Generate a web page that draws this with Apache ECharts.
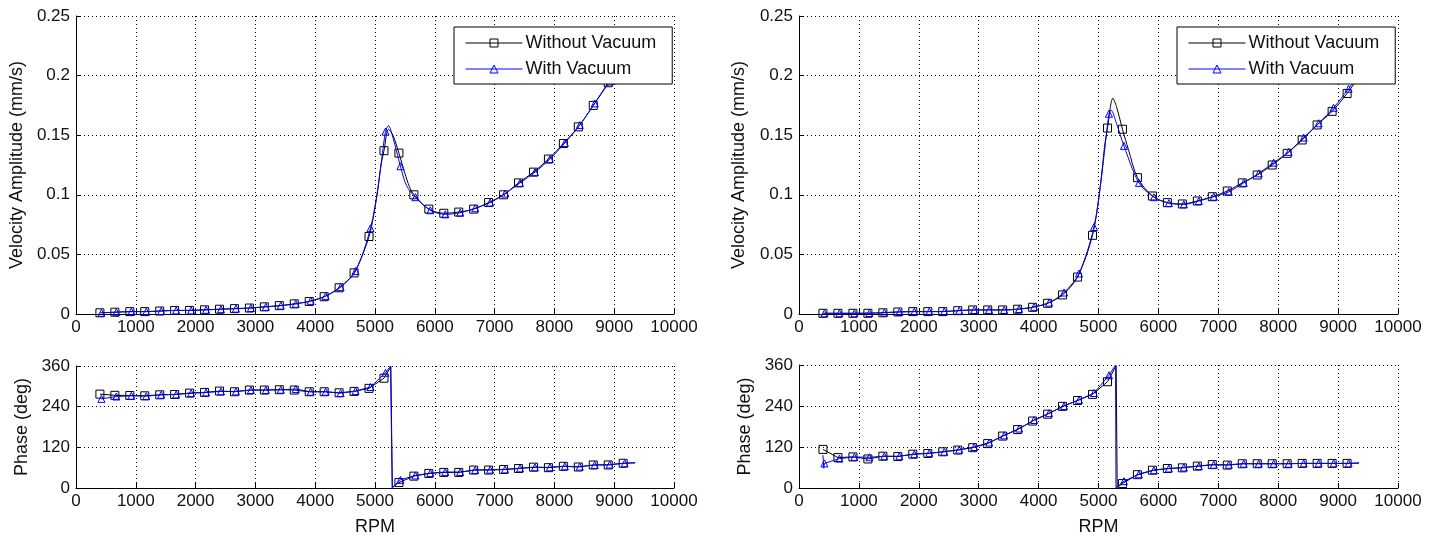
<!DOCTYPE html>
<html>
<head>
<meta charset="utf-8">
<script src="https://cdn.jsdelivr.net/npm/echarts/dist/echarts.min.js"></script>
<style>
  html, body { margin: 0; padding: 0; background: #fff; }
  #chart { width: 1438px; height: 538px; }
</style>
</head>
<body>
<div id="chart"></div>
<script>
// Run-up test: velocity amplitude and phase vs shaft speed, two measurement points.

// Marker speeds (RPM)
const rpmNoVac = [400, 650, 900, 1150, 1400, 1650, 1900, 2150, 2400, 2650, 2900, 3150, 3400, 3650, 3900, 4150, 4400, 4650, 4900, 5150, 5400, 5650, 5900, 6150, 6400, 6650, 6900, 7150, 7400, 7650, 7900, 8150, 8400, 8650, 8900, 9150];
const rpmVac   = [425, 675, 925, 1175, 1425, 1675, 1925, 2175, 2425, 2675, 2925, 3175, 3425, 3675, 3925, 4175, 4425, 4675, 4925, 5175, 5425, 5675, 5925, 6175, 6425, 6675, 6925, 7175, 7425, 7675, 7925, 8175, 8425, 8675, 8925, 9175];

// Left point: velocity amplitude (mm/s) at marker speeds
const ampLeftNoVac = [0.001, 0.0015, 0.002, 0.002, 0.0025, 0.003, 0.003, 0.0035, 0.004, 0.0045, 0.005, 0.006, 0.007, 0.0085, 0.0105, 0.0145, 0.022, 0.0345, 0.065, 0.137, 0.135, 0.100, 0.088, 0.0845, 0.0855, 0.088, 0.0935, 0.100, 0.110, 0.119, 0.130, 0.143, 0.157, 0.175, 0.194, 0.212];
const ampLeftVac   = [0.001, 0.0015, 0.002, 0.002, 0.0025, 0.003, 0.003, 0.0035, 0.004, 0.0045, 0.005, 0.006, 0.007, 0.0085, 0.011, 0.015, 0.0225, 0.036, 0.072, 0.153, 0.124, 0.098, 0.087, 0.0836, 0.085, 0.0887, 0.0935, 0.101, 0.110, 0.119, 0.130, 0.1435, 0.1585, 0.1767, 0.195, 0.213];
// Curve points between markers [rpm, value]
const ampLeftNoVacCurve = [[5025, 0.097], [5100, 0.125], [5225, 0.155], [5300, 0.150], [5500, 0.118], [5575, 0.107], [9350, 0.227]];
const ampLeftVacCurve   = [[5050, 0.106], [5225, 0.158], [5300, 0.148], [5525, 0.108], [9350, 0.228]];

// Left point: phase (deg)
const phaseLeftNoVac = [277, 273.5, 273, 272, 275, 276, 280, 282, 286, 284, 289, 289, 290, 289, 284, 284, 281, 285, 294, 324, 16, 35, 43, 46, 46, 53, 53, 54.5, 57.6, 61.5, 60, 64, 62, 68, 68, 73];
const phaseLeftVac   = [263, 270, 272, 271, 275, 276, 280, 282, 285, 285, 289, 289, 290, 292, 284, 284, 280, 286, 298, 340, 24, 37, 44, 47, 47, 53, 54, 55, 58, 61, 61, 64, 63, 68, 69, 73];
const phaseLeftNoVacCurve = [[5265, 358], [5290, 2], [9350, 74]];
const phaseLeftVacCurve   = [[5260, 360], [5288, 0], [9350, 75]];

// Right point: velocity amplitude (mm/s)
const ampRightNoVac = [0.0006, 0.0006, 0.0006, 0.0006, 0.001, 0.0017, 0.002, 0.002, 0.002, 0.0028, 0.0034, 0.0034, 0.0034, 0.004, 0.0056, 0.009, 0.016, 0.031, 0.066, 0.156, 0.155, 0.1144, 0.099, 0.0934, 0.0923, 0.0948, 0.0984, 0.1032, 0.110, 0.1166, 0.125, 0.1348, 0.146, 0.1586, 0.170, 0.185];
const ampRightVac   = [0.0006, 0.0006, 0.0006, 0.0008, 0.0012, 0.0017, 0.002, 0.002, 0.0022, 0.0028, 0.0034, 0.0034, 0.0034, 0.0042, 0.006, 0.0095, 0.018, 0.034, 0.073, 0.168, 0.141, 0.110, 0.098, 0.093, 0.092, 0.0948, 0.0984, 0.1025, 0.110, 0.118, 0.127, 0.136, 0.148, 0.160, 0.173, 0.189];
const ampRightNoVacCurve = [[5025, 0.105], [5100, 0.140], [5240, 0.181], [5300, 0.174], [5500, 0.138], [9350, 0.199]];
const ampRightVacCurve   = [[5050, 0.115], [5210, 0.171], [5300, 0.160], [9350, 0.200]];

// Right point: phase (deg)
const phaseRightNoVac = [113, 89, 91, 85, 93, 92, 99, 101, 106, 111, 118, 130, 152, 171, 196, 216, 239, 256, 274, 311, 13, 39, 52, 57, 59, 64, 68.5, 67, 71, 71, 71, 71, 72, 72, 72, 72];
const phaseRightVac   = [72, 86, 91, 90, 93, 93, 99, 102, 106, 112, 120, 133, 154, 174, 199, 219, 240, 258, 278, 330, 20, 40, 52, 57, 60, 64, 68, 68, 71, 71, 71, 71, 72, 72, 72, 72];
const phaseRightNoVacCurve = [[5295, 358], [5312, 2], [9350, 73]];
const phaseRightVacCurve   = [[400, 96], [412, 58], [5285, 360], [5292, 0], [9350, 73]];

const xTicks = { min: 0, max: 10000, interval: 1000 };
const ampTicks = { min: 0, max: 0.25, interval: 0.05 };
const phaseTicks = { min: 0, max: 360, interval: 120 };

const FONT = 'Liberation Sans, Arial, Helvetica, sans-serif';
const TEXT = '#111';
const BLACK = '#000000';
const BLUE = '#0000ff';

const grids = [
  { left: 76,  top: 16,  width: 598, height: 298 },
  { left: 76,  top: 366, width: 598, height: 122 },
  { left: 799, top: 16,  width: 599, height: 298 },
  { left: 799, top: 365, width: 599, height: 123 }
].map(g => Object.assign({ outerBoundsMode: 'none', containLabel: false }, g));

function xAxis(gridIndex, withName) {
  return {
    type: 'value', gridIndex,
    min: xTicks.min, max: xTicks.max, interval: xTicks.interval,
    name: withName ? 'RPM' : '', nameLocation: 'middle', nameGap: 30,
    nameTextStyle: { color: TEXT, fontSize: 18, fontFamily: FONT },
    axisLine: { show: true, onZero: false, lineStyle: { color: BLACK, width: 1 } },
    axisTick: { show: true, inside: true, length: 5, lineStyle: { color: BLACK } },
    axisLabel: { color: TEXT, fontSize: 17, fontFamily: FONT, margin: 5, showMaxLabel: true, showMinLabel: true,
                 formatter: v => String(v) },
    splitLine: { show: true, lineStyle: { color: BLACK, width: 1, type: [1, 3] } }
  };
}

function yAxis(gridIndex, ticks, name, gap) {
  return {
    type: 'value', gridIndex,
    min: ticks.min, max: ticks.max, interval: ticks.interval,
    name, nameLocation: 'middle', nameGap: gap,
    nameTextStyle: { color: TEXT, fontSize: 18, fontFamily: FONT },
    axisLine: { show: true, lineStyle: { color: BLACK, width: 1 } },
    axisTick: { show: true, inside: true, length: 5, lineStyle: { color: BLACK } },
    axisLabel: { color: TEXT, fontSize: 17, fontFamily: FONT, margin: 6,
                 formatter: v => String(+v.toFixed(4)) },
    splitLine: { show: true, lineStyle: { color: BLACK, width: 1, type: [1, 3] } }
  };
}

// Line with markers at measured speeds; curve-only points carry no marker.
function lineSeries(name, rpm, vals, curve, color, symbol, size, idx, smooth) {
  const pts = rpm.map((x, i) => ({ value: [x, vals[i]] }));
  curve.forEach(([x, y]) => pts.push({ value: [x, y], symbol: 'none' }));
  pts.sort((a, b) => a.value[0] - b.value[0]);
  return {
    type: 'line', name, xAxisIndex: idx, yAxisIndex: idx,
    data: pts, symbol, symbolSize: size, showSymbol: true, showAllSymbol: true,
    smooth: smooth || false,
    clip: true, animation: false, silent: true,
    z: color === BLUE ? 3 : 2,
    lineStyle: { color, width: 1 },
    itemStyle: { color: 'transparent', borderColor: color, borderWidth: 1 },
    emphasis: { disabled: true }
  };
}

function legendAt(left) {
  return {
    left, top: 27, orient: 'vertical', selectedMode: false,
    data: ['Without Vacuum', 'With Vacuum'],
    backgroundColor: '#fff', borderColor: BLACK, borderWidth: 1, borderRadius: 0,
    padding: [7, 16, 6, 11], itemGap: 8, itemWidth: 57, itemHeight: 10,
    itemStyle: { borderWidth: 1 },
    lineStyle: { width: 1 },
    textStyle: { color: TEXT, fontSize: 18, fontFamily: FONT, lineHeight: 18, padding: [0, 0, 0, -2] },
    z: 10
  };
}

const option = {
  backgroundColor: '#fff',
  animation: false,
  grid: grids,
  xAxis: [xAxis(0, false), xAxis(1, true), xAxis(2, false), xAxis(3, true)],
  yAxis: [
    yAxis(0, ampTicks, 'Velocity Amplitude (mm/s)', 50),
    yAxis(1, phaseTicks, 'Phase (deg)', 45),
    yAxis(2, ampTicks, 'Velocity Amplitude (mm/s)', 51),
    yAxis(3, phaseTicks, 'Phase (deg)', 45)
  ],
  legend: [legendAt(454), legendAt(1177)],
  series: [
    lineSeries('Without Vacuum', rpmNoVac, ampLeftNoVac, ampLeftNoVacCurve, BLACK, 'rect', 8, 0, 0.3),
    lineSeries('With Vacuum', rpmVac, ampLeftVac, ampLeftVacCurve, BLUE, 'triangle', 7, 0, 0.3),
    lineSeries('Without Vacuum', rpmNoVac, phaseLeftNoVac, phaseLeftNoVacCurve, BLACK, 'rect', 8, 1),
    lineSeries('With Vacuum', rpmVac, phaseLeftVac, phaseLeftVacCurve, BLUE, 'triangle', 7, 1),
    lineSeries('Without Vacuum', rpmNoVac, ampRightNoVac, ampRightNoVacCurve, BLACK, 'rect', 8, 2, 0.3),
    lineSeries('With Vacuum', rpmVac, ampRightVac, ampRightVacCurve, BLUE, 'triangle', 7, 2, 0.3),
    lineSeries('Without Vacuum', rpmNoVac, phaseRightNoVac, phaseRightNoVacCurve, BLACK, 'rect', 8, 3),
    lineSeries('With Vacuum', rpmVac, phaseRightVac, phaseRightVacCurve, BLUE, 'triangle', 7, 3)
  ]
};

const chart = echarts.init(document.getElementById('chart'), null, { renderer: 'canvas' });
chart.setOption(option);
</script>
</body>
</html>
